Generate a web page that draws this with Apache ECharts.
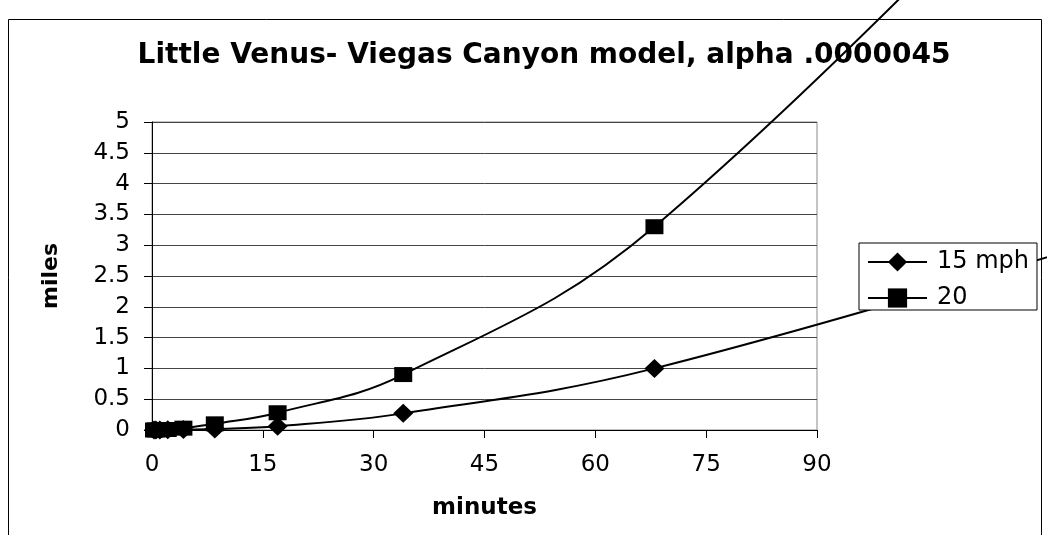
<!DOCTYPE html>
<html>
<head>
<meta charset="utf-8">
<script src="https://cdn.jsdelivr.net/npm/echarts@6/dist/echarts.min.js"></script>
<style>
html,body{margin:0;padding:0;background:#fff;}
#chart{width:1047px;height:535px;}
</style>
</head>
<body>
<div id="chart"></div>
<script>
// Data (last point lies beyond the axis range; its line runs past the plot as in the original)
var minutes = [0.27, 0.53, 1.06, 2.13, 4.25, 8.5, 17, 34, 68, 136];
var mph15 = [0.0002, 0.0008, 0.002, 0.004, 0.008, 0.015, 0.06, 0.27, 1.0, 3.35];
var mph20 = [0.0003, 0.001, 0.003, 0.008, 0.03, 0.1, 0.28, 0.9, 3.3, 11.3];
var seriesNames = ['15 mph', '20'];
var titleText = 'Little Venus- Viegas Canyon model, alpha .0000045';
var xTicks = {min: 0, max: 90, interval: 15};
var yTicks = {min: 0, max: 5, interval: 0.5};

function pairs(xs, ys) {
  return xs.map(function (x, i) { return [x, ys[i]]; });
}

var W = 1047, H = 535;
// plot rectangle
var PL = 152, PR = 817, PT = 122, PB = 430;
var pxPerX = (PR - PL) / (xTicks.max - xTicks.min);
var pxPerY = (PB - PT) / (yTicks.max - yTicks.min);
// an invisible, same-scale axis pair reaching to the canvas edges so the lines can run past the plot
var extX = (W - PL) / pxPerX, extY = PB / pxPerY;

var chart = echarts.init(document.getElementById('chart'));
var tickFont = {fontFamily: 'DejaVu Sans', fontSize: 23, color: '#000'};
chart.setOption({
  backgroundColor: '#fff',
  animation: false,
  title: {
    text: titleText,
    left: 539,
    top: 37,
    textAlign: 'center',
    textStyle: {fontFamily: 'DejaVu Sans', fontWeight: 'bold', fontSize: 28, color: '#000'}
  },
  graphic: [{
    type: 'rect',
    shape: {x: 8.5, y: 19.5, width: 1033, height: 600},
    style: {fill: null, stroke: '#000', lineWidth: 1},
    silent: true,
    z: 0
  }],
  legend: {
    orient: 'vertical',
    left: 859,
    top: 243,
    padding: [7, 8, 0, 8],
    itemWidth: 59,
    itemHeight: 24,
    itemGap: 12,
    borderColor: '#000',
    borderWidth: 1,
    backgroundColor: '#fff',
    textStyle: {fontFamily: 'DejaVu Sans', fontSize: 24, color: '#000', padding: [0, 0, 0, 5]},
    data: seriesNames
  },
  grid: [{
    left: PL, top: PT, right: W - PR, bottom: H - PB,
    show: true, borderColor: '#8a8a8a', borderWidth: 1, backgroundColor: '#fff'
  }, {
    left: PL, right: 0, top: 0, bottom: H - PB,
    show: false
  }],
  xAxis: [{
    type: 'value',
    gridIndex: 0,
    min: xTicks.min, max: xTicks.max, interval: xTicks.interval,
    name: 'minutes',
    nameLocation: 'middle',
    nameGap: 67,
    nameTextStyle: {fontFamily: 'DejaVu Sans', fontWeight: 'bold', fontSize: 23, color: '#000'},
    axisLine: {show: true, onZero: false, lineStyle: {color: '#000', width: 1}},
    axisTick: {show: true, length: 8, lineStyle: {color: '#000'}},
    axisLabel: Object.assign({margin: 24}, tickFont),
    splitLine: {show: false}
  }, {
    type: 'value',
    gridIndex: 1,
    min: xTicks.min, max: extX,
    show: false
  }],
  yAxis: [{
    type: 'value',
    gridIndex: 0,
    min: yTicks.min, max: yTicks.max, interval: yTicks.interval,
    name: 'miles',
    nameLocation: 'middle',
    nameGap: 90,
    nameRotate: 90,
    nameTextStyle: {fontFamily: 'DejaVu Sans', fontWeight: 'bold', fontSize: 22, color: '#000'},
    axisLine: {show: true, lineStyle: {color: '#000', width: 1}},
    axisTick: {show: true, length: 8, lineStyle: {color: '#000'}},
    axisLabel: Object.assign({margin: 22}, tickFont),
    splitLine: {show: true, lineStyle: {color: '#454545', width: 1}}
  }, {
    type: 'value',
    gridIndex: 1,
    min: yTicks.min, max: extY,
    show: false
  }],
  series: [{
    name: seriesNames[0],
    type: 'line',
    xAxisIndex: 1,
    yAxisIndex: 1,
    data: pairs(minutes, mph15),
    smooth: 0.4,
    symbol: 'diamond',
    symbolSize: [20, 19],
    itemStyle: {color: '#000'},
    lineStyle: {color: '#000', width: 2},
    z: 3
  }, {
    name: seriesNames[1],
    type: 'line',
    xAxisIndex: 1,
    yAxisIndex: 1,
    data: pairs(minutes, mph20),
    smooth: 0.4,
    symbol: 'rect',
    symbolSize: [18, 15],
    itemStyle: {color: '#000'},
    lineStyle: {color: '#000', width: 2},
    z: 3
  }]
});
</script>
</body>
</html>
